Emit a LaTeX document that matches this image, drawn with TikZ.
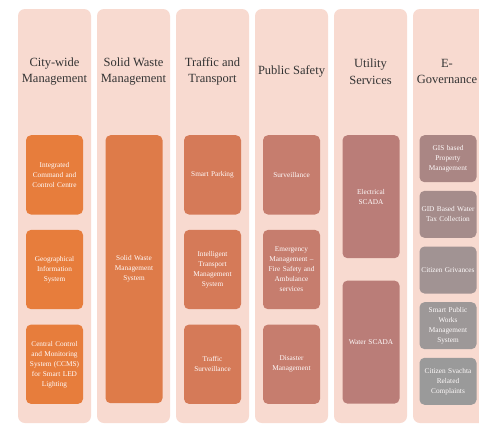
\documentclass[tikz,border=0pt]{standalone}
\usepackage{fontspec}
\setmainfont{Liberation Serif}
\usepackage{xcolor}
\usetikzlibrary{positioning}
\definecolor{cPanel}{RGB}{248,218,208}
\definecolor{cCity}{RGB}{231,125,60}
\definecolor{cWaste}{RGB}{222,123,73}
\definecolor{cTraffic}{RGB}{213,122,88}
\definecolor{cSafety}{RGB}{198,125,110}
\definecolor{cUtil}{RGB}{186,125,120}
\definecolor{cGovA}{RGB}{170,134,132}
\definecolor{cGovB}{RGB}{165,140,139}
\definecolor{cGovC}{RGB}{161,147,147}
\definecolor{cGovD}{RGB}{157,152,152}
\definecolor{cGovE}{RGB}{154,154,154}
\tikzset{
  panel/.style={fill=cPanel, rounded corners=7pt, minimum width=73pt,
                minimum height=414pt, inner sep=0pt},
  title/.style={align=center, text=black!80, font=\fontsize{12.5}{16.5}\selectfont},
  item/.style={rounded corners=5pt, minimum width=57pt, inner sep=0pt,
               text width=54pt, align=center, text=white!94!pink,
               font=\fontsize{7.3}{10}\selectfont},
  city/.style={item, fill=cCity, minimum height=79.3pt},
  waste/.style={item, fill=cWaste, minimum height=268pt},
  traffic/.style={item, fill=cTraffic, minimum height=79.3pt},
  safety/.style={item, fill=cSafety, minimum height=79.3pt},
  util/.style={item, fill=cUtil, minimum height=123pt},
  gov/.style={item, minimum height=47pt},
}

\begin{document}
\begin{tikzpicture}[x=1pt, y=-1pt]
  \clip (0,0) rectangle (479,426);
  \useasboundingbox (0,0) rectangle (479,426);
  \fill[white] (0,0) rectangle (479,426);

  % column panels
  \node[panel] (pCity)    at (54.5,216)  {};
  \node[panel] (pWaste)   at (133.5,216) {};
  \node[panel] (pTraffic) at (212.5,216) {};
  \node[panel] (pSafety)  at (291.5,216) {};
  \node[panel] (pUtil)    at (370.5,216) {};
  \node[panel] (pGov)     at (449.5,216) {};

  % headings
  \node[title] (tCity)    at (54.5,71.5)  {City-wide\\Management};
  \node[title] (tWaste)   at (133.5,71.5) {Solid Waste\\Management};
  \node[title] (tTraffic) at (212.5,71.5) {Traffic and\\Transport};
  \node[title] (tSafety)  at (291.5,71.5) {Public Safety};
  \node[title] (tUtil)    at (370.5,71.5) {Utility\\Services};
  \node[title] (tGov)     at (447,71.5)   {E-\\Governance};

  % city-wide management
  \node[city, anchor=north] (iccc) at (54.5,135) {Integrated\\Command and\\Control Centre};
  \node[city, below=15pt of iccc] (gis) {Geographical\\Information\\System};
  \node[city, below=15pt of gis] (ccms) {Central Control\\and Monitoring\\System (CCMS)\\for Smart LED\\Lighting};

  % solid waste
  \node[waste, anchor=north] (swm) at (134,135) {Solid Waste\\Management\\System};

  % traffic and transport
  \node[traffic, anchor=north] (park) at (212.5,135) {Smart Parking};
  \node[traffic, below=15pt of park] (itms) {Intelligent\\Transport\\Management\\System};
  \node[traffic, below=15pt of itms] (tsurv) {Traffic\\Surveillance};

  % public safety
  \node[safety, anchor=north] (surv) at (291.5,135) {Surveillance};
  \node[safety, below=15pt of surv] (emerg) {Emergency\\Management --\\Fire Safety and\\Ambulance\\services};
  \node[safety, below=15pt of emerg] (disas) {Disaster\\Management};

  % utility services
  \node[util, anchor=north] (escada) at (371,135) {Electrical\\SCADA};
  \node[util, below=22pt of escada] (wscada) {Water SCADA};

  % e-governance
  \node[gov, fill=cGovA, anchor=north] (prop) at (448,135) {GIS based\\Property\\Management};
  \node[gov, fill=cGovB, below=8.25pt of prop] (water) {GID Based Water\\Tax Collection};
  \node[gov, fill=cGovC, below=8.25pt of water] (griev) {Citizen Grivances};
  \node[gov, fill=cGovD, below=8.25pt of griev] (works) {Smart Public\\Works\\Management\\System};
  \node[gov, fill=cGovE, below=8.25pt of works] (svachta) {Citizen Svachta\\Related\\Complaints};
\end{tikzpicture}
\end{document}
